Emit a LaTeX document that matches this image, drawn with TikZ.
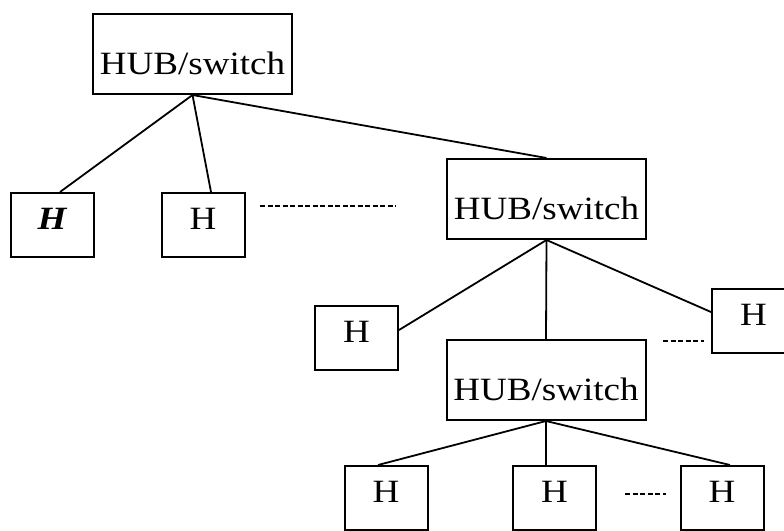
\documentclass[tikz,border=0pt]{standalone}
\usepackage{fontspec}
\setmainfont{Liberation Serif}[FakeStretch=1.14]
\usepackage{tikz}
\usetikzlibrary{calc}

\begin{document}
\begin{tikzpicture}[x=1pt,y=-1pt,
	hub/.style={draw, line width=2pt, inner sep=0pt, minimum width=199pt,
		text height=60pt, text depth=20pt, anchor=base,
		font=\fontsize{32.5}{38}\selectfont},
	host/.style={draw, line width=2pt, inner sep=0pt, minimum width=83pt,
		text height=36pt, text depth=28pt, anchor=base,
		font=\fontsize{32.5}{38}\selectfont},
	link/.style={line width=1.8pt},
	more/.style={line width=1.3pt, dash pattern=on 5pt off 2.5pt}]

	% picture frame
	\useasboundingbox (0,0) rectangle (784,530);
	\clip (0,0) rectangle (784,530);

	%first level
	\node[hub]  (hubTop)   at (192.5,74) {HUB/switch};
	\node[host] (hostA)    at (52.5,229) {\textbf{\textit{H}}};
	\node[host] (hostB)    at (203,229) {H};

	%second level
	\node[hub]  (hubMid)   at (546.5,219) {HUB/switch};
	\node[host] (hostLeft) at (356.5,342) {H};
	\node[host] (hostRight) at (753.5,325) {H};

	%third level
	\node[hub]  (hubLow)   at (546,400) {HUB/switch};
	\node[host] (hostE)    at (386,502) {H};
	\node[host] (hostF)    at (554.5,502) {H};
	\node[host] (hostG)    at (722,502) {H};

	% links from the top hub
	\draw[link] (hubTop.south) -- ([xshift=7.5pt]hostA.north);
	\draw[link] (hubTop.south) -- ([xshift=8pt]hostB.north);
	\draw[link] (hubTop.south) -- (hubMid.north);

	% links from the middle hub
	\draw[link] (hubMid.south) -- ([yshift=8pt]hostLeft.east);
	\draw[link] (hubMid.south) -- ([yshift=9pt]hostRight.west);
	\draw[link] (hubMid.south) -- (hubLow.north);

	% links from the low hub
	\draw[link] (hubLow.south) -- ([xshift=-8pt]hostE.north);
	\draw[link] (hubLow.south) -- ([xshift=-8.5pt]hostF.north);
	\draw[link] (hubLow.south) -- ([xshift=8pt]hostG.north);

	% more hosts
	\coordinate (moreTopA) at (260,206);
	\coordinate (moreTopB) at (396,206);
	\draw[more] (moreTopA) -- (moreTopB);

	\coordinate (moreMidA) at (663,341);
	\coordinate (moreMidB) at (704,341);
	\draw[more] (moreMidA) -- (moreMidB);

	\coordinate (moreLowA) at (625,494);
	\coordinate (moreLowB) at (666,494);
	\draw[more] (moreLowA) -- (moreLowB);

\end{tikzpicture}
\end{document}
